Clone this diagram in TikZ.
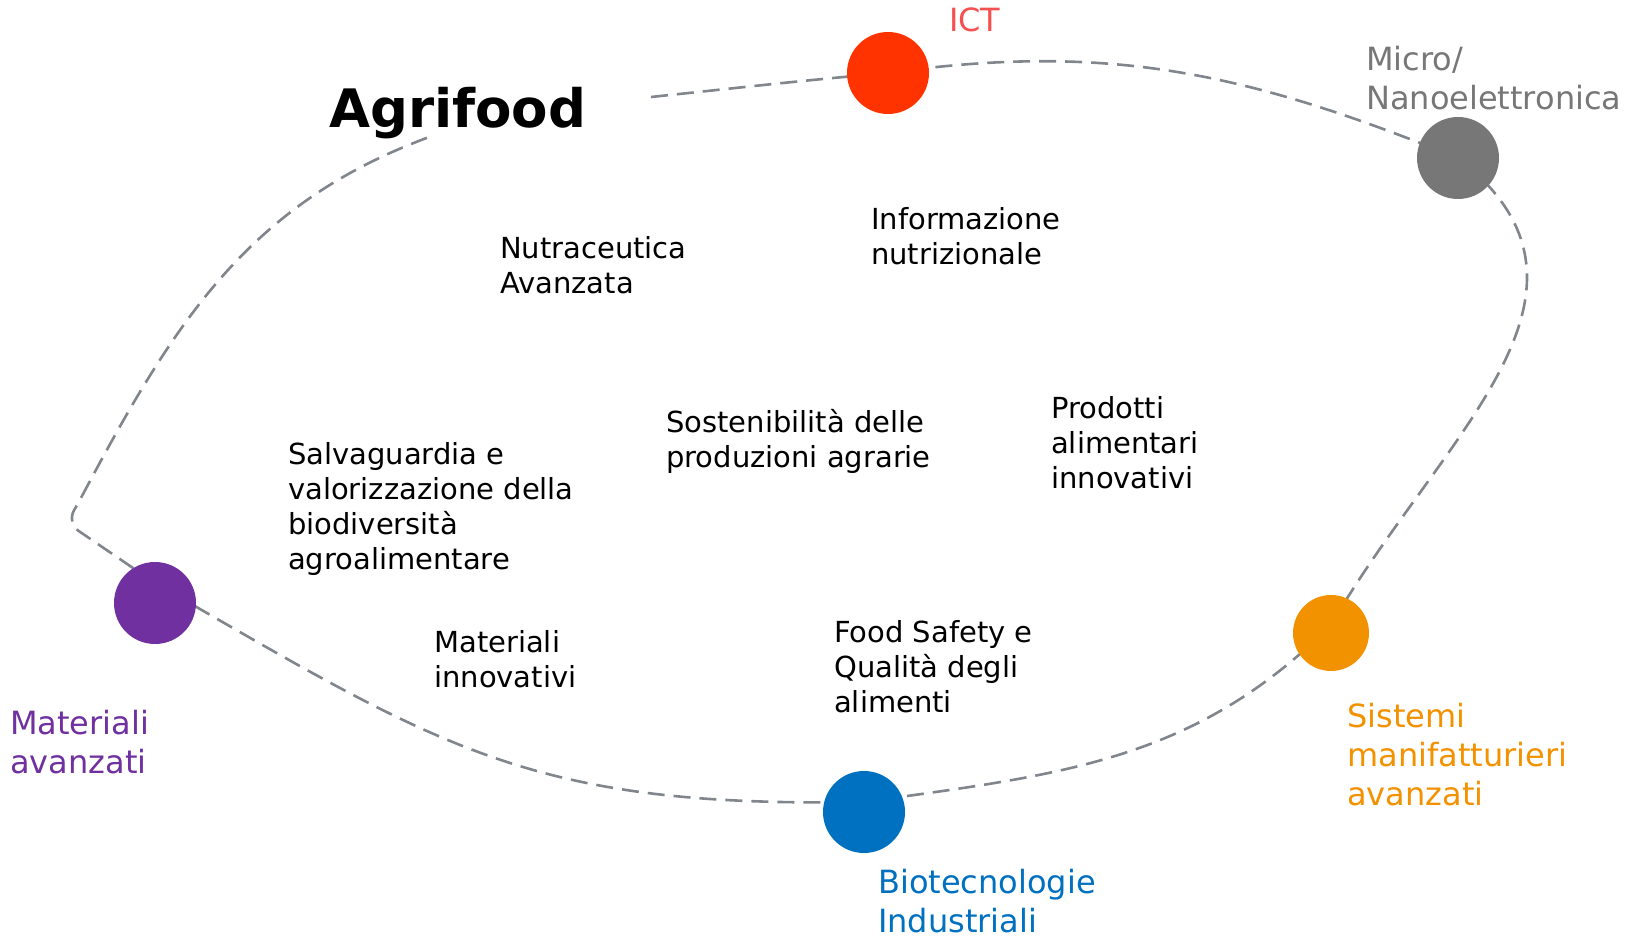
\documentclass[tikz,border=0pt]{standalone}
\usepackage{fontspec}
\setmainfont{DejaVu Sans}
\usetikzlibrary{calc,backgrounds}
\definecolor{ictred}{RGB}{255,51,0}
\definecolor{icttext}{RGB}{245,80,80}
\definecolor{microgray}{RGB}{119,119,119}
\definecolor{sysorange}{RGB}{243,146,0}
\definecolor{bioblue}{RGB}{0,112,192}
\definecolor{matpurple}{RGB}{112,48,160}
\definecolor{ringgray}{RGB}{128,134,140}
\tikzset{dot/.style={circle,inner sep=0pt,minimum size=82pt},
  topic/.style={anchor=base west,align=left,inner sep=0pt,font=\fontsize{29}{35}\selectfont},
  area/.style={anchor=base west,align=left,inner sep=0pt,font=\fontsize{32}{39}\selectfont},
  ring/.style={draw=ringgray,line width=2.6pt,dash pattern=on 17pt off 9pt}}

\begin{document}
\begin{tikzpicture}[x=1pt,y=1pt]
\useasboundingbox (0,0) rectangle (1633,940);
% technology areas on the ring
\node[dot,fill=ictred] (ict) at (888,867){};
\node[dot,fill=microgray] (micro) at (1458,782){};
\node[dot,fill=sysorange,minimum size=76pt] (sistemi) at (1331,307){};
\node[dot,fill=bioblue] (biotec) at (864,128){};
\node[dot,fill=matpurple] (materiali) at (155,337){};
\coordinate (start) at (651,843); \coordinate (corner) at (67,417);
\coordinate (rise) at (82,444); \coordinate (end) at (432,804);
\begin{scope}[on background layer]
\draw[ring] (start) to[out=6,in=185] (ict.center) to[out=8,in=158] (micro.center)
  to[out=-38,in=60,looseness=1.15] ($(sistemi)+(0,8)$) to[out=225,in=8] ($(biotec)+(0,10)$)
  to[out=181,in=-30,looseness=1.15] ($(materiali)+(0,20)$);
\draw[ring,rounded corners=14pt] ($(materiali)+(0,20)$) -- (corner) -- (rise);
\draw[ring] (rise) to[out=62,in=200] (end);
\end{scope}
% labels
\node[anchor=base west,inner sep=0pt,font=\bfseries\fontsize{53}{60}\selectfont] (title) at (329,812){Agrifood};
\node[area,text=icttext] (ictlbl) at (949,908){ICT};
\node[area,text=microgray] (microlbl) at (1366,830){Micro/\\Nanoelettronica};
\node[area,text=sysorange] (sistemilbl) at (1347,135){Sistemi\\manifatturieri\\avanzati};
\node[area,text=bioblue] (biotecl) at (878,8){Biotecnologie\\Industriali};
\node[area,text=matpurple] (materialilbl) at (10,166){Materiali\\avanzati};
% themes
\node[topic] (nutra) at (500,646){Nutraceutica\\Avanzata};
\node[topic] (info) at (871,675){Informazione\\nutrizionale};
\node[topic] (soste) at (666,472){Sostenibilità delle\\produzioni agrarie};
\node[topic] (prod) at (1051,451){Prodotti\\alimentari\\innovativi};
\node[topic] (salva) at (288,370){Salvaguardia e\\valorizzazione della\\biodiversità\\agroalimentare};
\node[topic] (matinn) at (434,252){Materiali\\innovativi};
\node[topic] (food) at (834,227){Food Safety e\\Qualità degli\\alimenti};
\end{tikzpicture}
\end{document}
